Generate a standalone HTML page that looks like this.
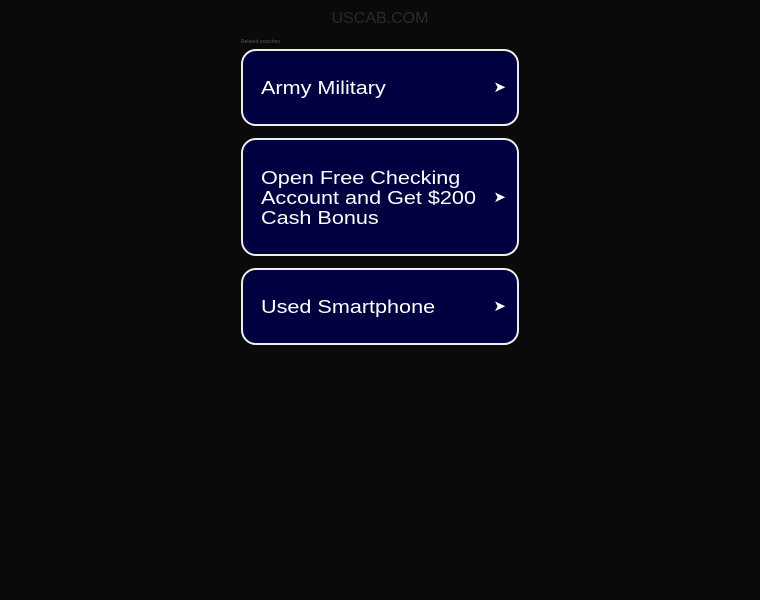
<!DOCTYPE html>
<html><head><style>
body{margin:0;background:#0a0a0a;width:760px;height:600px;overflow:hidden;font-family:"Liberation Sans",sans-serif;position:relative}
.t{position:absolute;top:10px;left:0;width:760px;text-align:center;color:#2a2a2a;font-size:16px}
.r{position:absolute;left:241px;top:39px;font-size:5px;color:#555}
.b{position:absolute;left:241px;width:274px;border:2px solid #eee;border-radius:15px;background:#000040;color:#fff;font-size:18px;box-sizing:content-box}
.b span{position:absolute;left:18px;line-height:20px;transform:scaleX(1.2);transform-origin:left;white-space:nowrap}
.b i{position:absolute;right:11px;font-style:normal;font-size:15px}
</style></head><body>
<div class="t">USCAB.COM</div>
<div class="r">Related searches</div>
<div class="b" style="top:49px;height:73px"><span style="top:27px">Army Military</span><i style="top:27px">➤</i></div>
<div class="b" style="top:138px;height:114px"><span style="top:28px">Open Free Checking<br>Account and Get $200<br>Cash Bonus</span><i style="top:48px">➤</i></div>
<div class="b" style="top:268px;height:73px"><span style="top:27px">Used Smartphone</span><i style="top:27px">➤</i></div>
</body></html>
